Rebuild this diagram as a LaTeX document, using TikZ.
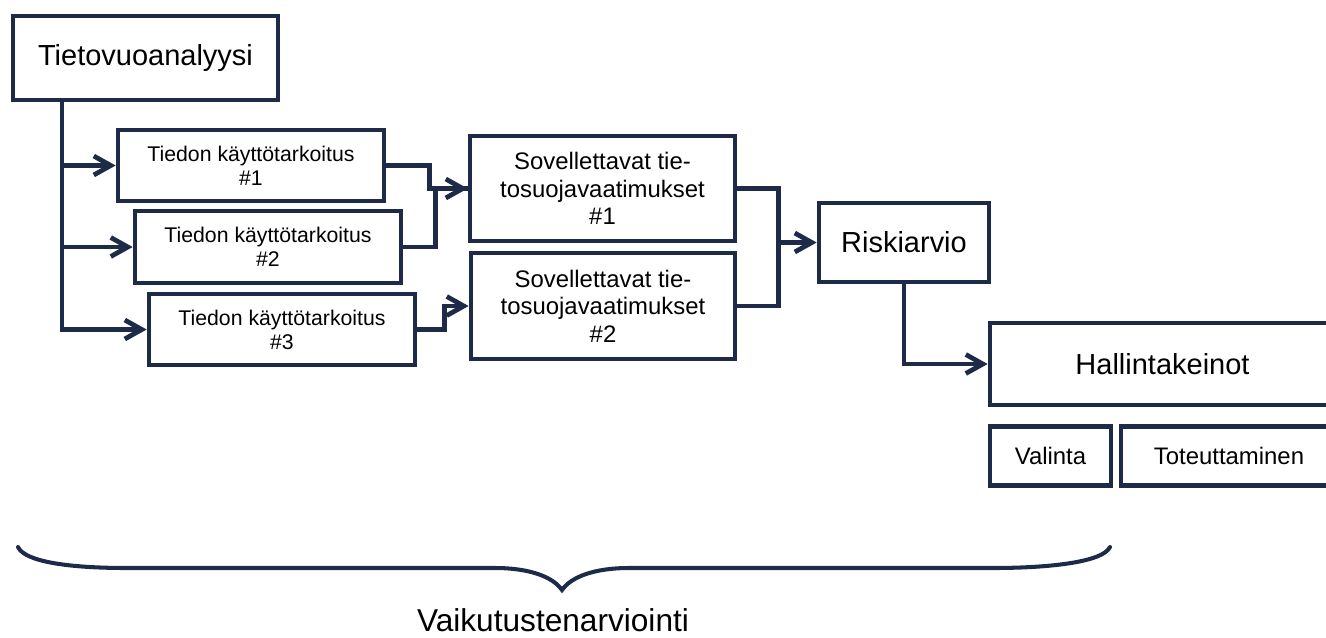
\documentclass[tikz,border=0pt]{standalone}
\usepackage{fontspec}
\setmainfont{Liberation Sans}
\usetikzlibrary{arrows.meta, positioning}
\definecolor{navy}{RGB}{29,43,73}

\begin{document}
\begin{tikzpicture}[
  x=0.02cm, y=-0.02cm,
  box/.style={rectangle, draw=navy, line width=2.7pt, inner sep=0pt, align=center},
  link/.style={draw=navy, line width=2.7pt, -{Straight Barb[length=3.4mm, width=3.8mm]}},
  plain/.style={draw=navy, line width=2.7pt},
  txtL/.style={font=\fontsize{16.5}{19}\selectfont},
  txtM/.style={font=\fontsize{13.6}{15.6}\selectfont},
  txtS/.style={font=\fontsize{12.1}{13.6}\selectfont}
]
\useasboundingbox (0,0) rectangle (1326,637);
\clip (0,0) rectangle (1326,637);

\node[box, txtL, minimum width=5.30cm, minimum height=1.68cm] (tieto) at (145.5,58) {Tietovuoanalyysi};
\node[box, txtS, minimum width=5.32cm, minimum height=1.42cm] (k1) at (251,165.5) {Tiedon käyttötarkoitus\\\#1};
\node[box, txtS, minimum width=5.32cm, minimum height=1.44cm] (k2) at (268,247) {Tiedon käyttötarkoitus\\\#2};
\node[box, txtS, minimum width=5.32cm, minimum height=1.42cm] (k3) at (282,329.5) {Tiedon käyttötarkoitus\\\#3};
\node[box, txtM, minimum width=5.30cm, minimum height=2.10cm] (s1) at (602.5,188.5) {Sovellettavat tie-\\tosuojavaatimukset\\\#1};
\node[box, txtM, minimum width=5.28cm, minimum height=2.12cm] (s2) at (603,306) {Sovellettavat tie-\\tosuojavaatimukset\\\#2};
\node[box, txtL, minimum width=3.40cm, minimum height=1.58cm] (riski) at (904,242.5) {Riskiarvio};
\node[box, txtL, minimum width=6.90cm, minimum height=1.64cm] (hallinta) at (1162.5,364) {Hallintakeinot};
\node[box, txtM, minimum width=2.42cm, minimum height=1.18cm, below=0.33cm of hallinta.south west, anchor=north west] (valinta) {Valinta};
\node[box, txtM, minimum width=4.32cm, minimum height=1.18cm, right=0.105cm of valinta] (toteutus) {Toteuttaminen};

% trunk from the data flow analysis
\coordinate (trunk) at (62,0);
\draw[link] (tieto.south -| trunk) |- (k3);
\draw[link] (trunk |- k1) -- (k1);
\draw[link] (trunk |- k2) -- (k2);

% purposes -> requirements
\draw[plain] (k2.east) -- ++(32,0) |- (s1.west);
\draw[link] (k1.east) -- ++(43,0) |- (s1.west);
\draw[link] (k3.east) -- ++(27,0) |- (s2.west);

% requirements -> risk assessment -> controls
\draw[plain] (s1.east) -- ++(41,0) |- (s2.east);
\draw[link] (s1.east) ++(41,0) |- (riski.west);
\draw[link] (riski.south) |- (hallinta.west);

% brace
\draw[navy, line width=2.3pt, line cap=round]
  (18,547) .. controls (25,562) and (70,568) .. (127,568) -- (495,568)
  .. controls (530,568) and (553,577) .. (562,590)
  .. controls (571,577) and (594,568) .. (629,568) -- (993,568)
  .. controls (1050,568) and (1103,562) .. (1110,547);
\node[font=\fontsize{18}{21}\selectfont, inner sep=0pt] (vaikutus) at (553,620) {Vaikutustenarviointi};
\end{tikzpicture}
\end{document}
